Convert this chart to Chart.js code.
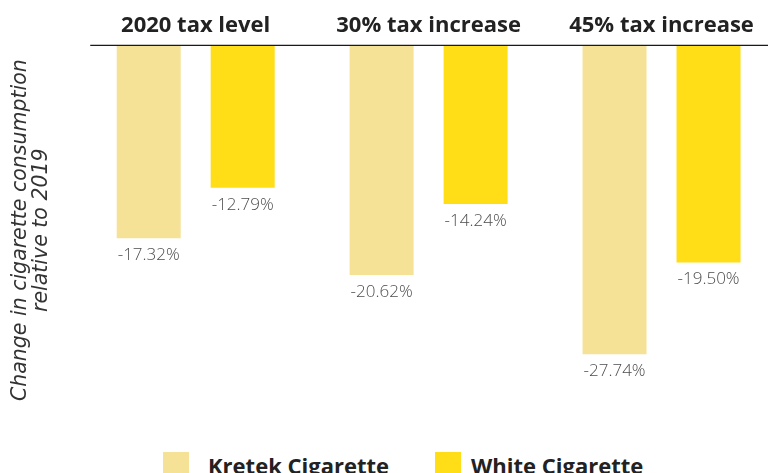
<!DOCTYPE html>
<html lang="en">
<head>
  <meta charset="UTF-8" />
  <title>Cigarette consumption by tax scenario</title>
  <script src="https://cdn.jsdelivr.net/npm/chart.js"></script>
  <style>
    body { margin: 0; background: #fff; overflow: hidden; width: 768px; height: 473px; position: relative; }
    #wrap { position: absolute; left: 0; top: 0; width: 790px; height: 430px; }
    #legend { position: absolute; left: 163px; top: 450px; display: flex; font-family: "Open Sans", sans-serif; font-weight: 700; font-size: 22px; color: #222; }
    .item { display: flex; align-items: center; margin-right: 46px; }
    .box { width: 26px; height: 26px; margin-right: 19px; }
    .item + .item .box { margin-right: 10px; }
  </style>
</head>
<body>
  <div id="wrap"><canvas id="chart" width="790" height="430"></canvas></div>
  <div id="legend"></div>
  <script>
    const categories = ['2020 tax level', '30% tax increase', '45% tax increase'];
    const kretekChange = [-17.32, -20.62, -27.74];
    const whiteChange = [-12.79, -14.24, -19.50];
    const seriesNames = ['Kretek Cigarette', 'White Cigarette'];
    const seriesColors = ['#F6E296', '#FFDD17'];

    // value text under the end of each bar, plus the zero rule along the top
    const valueLabels = {
      id: 'valueLabels',
      afterDatasetsDraw(chart) {
        const ctx = chart.ctx;
        const area = chart.chartArea;
        ctx.save();
        ctx.strokeStyle = '#1a1a1a';
        ctx.lineWidth = 1.2;
        ctx.beginPath();
        ctx.moveTo(area.left + 11, area.top);
        ctx.lineTo(area.right, area.top);
        ctx.stroke();

        ctx.font = '300 17px "Open Sans"';
        ctx.fillStyle = '#4d4d4d';
        ctx.textAlign = 'center';
        ctx.textBaseline = 'middle';
        chart.data.datasets.forEach((ds, i) => {
          chart.getDatasetMeta(i).data.forEach((bar, j) => {
            ctx.fillText(ds.data[j].toFixed(2) + '%', bar.x, bar.y + 17);
          });
        });
        ctx.restore();
      }
    };

    const chart = new Chart(document.getElementById('chart'), {
      type: 'bar',
      data: {
        labels: categories,
        datasets: [
          { label: seriesNames[0], data: kretekChange, backgroundColor: seriesColors[0] },
          { label: seriesNames[1], data: whiteChange, backgroundColor: seriesColors[1] }
        ]
      },
      options: {
        responsive: false,
        animation: false,
        categoryPercentage: 0.807,
        barPercentage: 0.681,
        layout: { padding: { left: 10, top: 7, right: 12, bottom: 15 } },
        plugins: {
          legend: { display: false },
          tooltip: { enabled: false }
        },
        scales: {
          x: {
            position: 'top',
            grid: { display: false, drawTicks: false },
            border: { display: false },
            ticks: {
              padding: 6,
              color: '#222',
              font: { family: 'Open Sans', size: 22, weight: 'bold' }
            }
          },
          y: {
            min: -33.2,
            max: 0,
            grid: { display: false, drawTicks: false },
            border: { display: false },
            ticks: { display: false },
            title: {
              display: true,
              text: ['Change in cigarette consumption', 'relative to 2019'],
              color: '#333',
              padding: { top: 0, bottom: 27 },
              font: { family: 'DejaVu Sans', size: 20.5, style: 'italic', weight: 200, lineHeight: 1.03 }
            }
          }
        }
      },
      plugins: [valueLabels]
    });

    // legend row below the plot
    const legend = document.getElementById('legend');
    seriesNames.forEach((name, i) => {
      const item = document.createElement('div');
      item.className = 'item';
      item.innerHTML = `<span class="box" style="background:${seriesColors[i]}"></span><span>${name}</span>`;
      legend.appendChild(item);
    });
  </script>
</body>
</html>
